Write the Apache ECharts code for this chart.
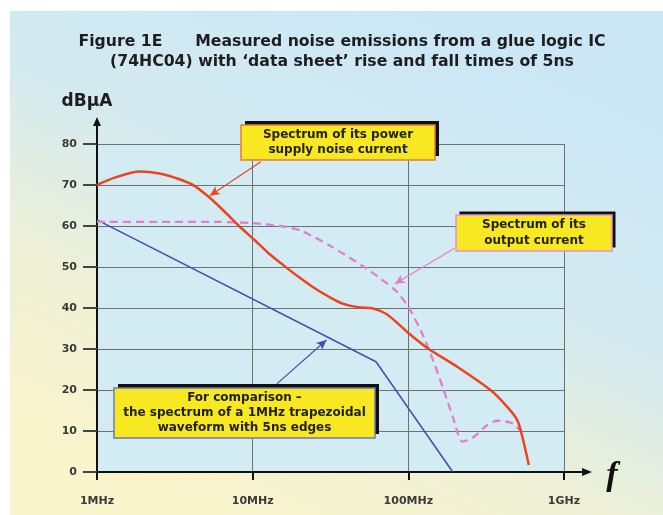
<!DOCTYPE html>
<html><head><meta charset="utf-8">
<script src="https://cdn.jsdelivr.net/npm/echarts@6/dist/echarts.min.js"></script>
<style>html,body{margin:0;padding:0;background:#fff}#c{width:663px;height:515px}</style>
</head><body><div id="c"></div>
<script>
// ---- data (frequency in MHz, level in dBµA) ----
const supplyFreq  = [1, 1.3, 1.88, 2.52, 3.39, 4.22, 5.26, 6.56, 8.18, 10.4, 12.7, 15.8, 19.7, 24.6, 30.7, 38.3, 47.7, 59.4, 71.9, 85.9, 100, 133, 200, 337, 432, 500, 540, 594];
const supplyLevel = [70, 71.8, 73.3, 72.8, 71.4, 69.8, 67.0, 63.6, 60.0, 56.4, 53.3, 50.4, 47.6, 45.0, 42.8, 41.0, 40.2, 39.9, 38.6, 36.2, 33.9, 30.2, 26, 20, 15.9, 12.7, 8.6, 1.7];
const outputFreq  = [1, 3, 6, 10, 15, 20, 31, 53, 82, 100, 124, 145, 166, 193, 223, 265, 322, 373, 465, 525];
const outputLevel = [61, 61, 61, 60.7, 60, 59, 55.3, 49.8, 44.4, 40.3, 33.4, 27, 20.8, 13.5, 7.4, 8.6, 11.5, 12.5, 11.9, 10];
const trapFreq  = [1, 62, 193];
const trapLevel = [61.5, 26.9, 0];
const xTickValues = [1, 10, 100, 1000];
const xTickLabels = ['1MHz', '10MHz', '100MHz', '1GHz'];
const yMin = 0, yMax = 80, yStep = 10;
// annotation arrows: [from, to] in data space
const supplyArrow = [[11.3, 75.7], [5.3, 67.4]];
const outputArrow = [[198, 54.6], [82, 45.9]];
const trapArrow   = [[14.3, 21.5], [29.8, 32.2]];

const zip = (a, b) => a.map((v, i) => [v, b[i]]);
const FONT = '"DejaVu Sans", sans-serif';

const chart = echarts.init(document.getElementById('c'), null, {renderer: 'canvas'});

function arrowLine(pair, color) {
  return {
    silent: true,
    symbol: ['none', 'arrow'],
    symbolSize: [7, 10],
    label: {show: false},
    lineStyle: {color: color, width: 1.2, type: 'solid'},
    emphasis: {disabled: true},
    data: [[{coord: pair[0]}, {coord: pair[1]}]]
  };
}

function box(x, y, w, h, off, border, lines, lh) {
  return {
    type: 'group', z: 50,
    children: [
      {type: 'rect', shape: {x: x + off, y: y - off, width: w, height: h}, style: {fill: '#111'}, z: 50},
      {type: 'rect', shape: {x: x, y: y, width: w, height: h}, style: {fill: '#f8e822', stroke: border, lineWidth: 1.5}, z: 51},
      {type: 'text', x: x + w / 2, y: y + h / 2, z: 52,
        style: {text: lines.join('\n'), font: 'bold 12px ' + FONT, fill: '#222210',
                textAlign: 'center', textVerticalAlign: 'middle', lineHeight: lh}}
    ]
  };
}

const option = {
  animation: false,
  backgroundColor: 'transparent',
  title: {
    text: 'Figure 1E      Measured noise emissions from a glue logic IC\n(74HC04) with \u2018data sheet\u2019 rise and fall times of 5ns',
    left: 337, top: 27, textAlign: 'center',
    textStyle: {fontFamily: FONT, fontWeight: 'bold', fontSize: 15.7, color: '#1e1e1e', lineHeight: 20}
  },
  grid: {left: 97, right: 99, top: 144, bottom: 43, show: true, backgroundColor: '#d3ebf2', borderWidth: 0},
  xAxis: {
    type: 'log', logBase: 10, min: 1, max: 1000,
    axisLine: {lineStyle: {color: '#111', width: 2}},
    axisTick: {show: true, length: 8, lineStyle: {color: '#111', width: 2}},
    minorTick: {show: false},
    splitLine: {show: true, lineStyle: {color: '#707070', width: 1}},
    axisLabel: {margin: 24, fontFamily: FONT, fontWeight: 'bold', fontSize: 11, color: '#3a3a3a',
      formatter: v => { const i = xTickValues.findIndex(t => Math.abs(t - v) < 1e-6 * t); return i >= 0 ? xTickLabels[i] : ''; }}
  },
  yAxis: {
    type: 'value', min: yMin, max: yMax, interval: yStep,
    axisLine: {show: true, lineStyle: {color: '#111', width: 2}},
    axisTick: {show: true, length: 14, lineStyle: {color: '#444', width: 2}},
    splitLine: {show: true, lineStyle: {color: '#707070', width: 1}},
    axisLabel: {margin: 20, fontFamily: FONT, fontWeight: 'bold', fontSize: 11, color: '#3a3a3a'}
  },
  series: [
    {name: 'trap', type: 'line', data: zip(trapFreq, trapLevel), symbol: 'none',
     lineStyle: {color: '#4250a8', width: 1.5}, z: 3, markLine: arrowLine(trapArrow, '#4250a8')},
    {name: 'output', type: 'line', data: zip(outputFreq, outputLevel), symbol: 'none', smooth: 0.25,
     lineStyle: {color: '#e07fce', width: 2.3, type: [8, 5]}, z: 4, markLine: arrowLine(outputArrow, '#e07fce')},
    {name: 'supply', type: 'line', data: zip(supplyFreq, supplyLevel), symbol: 'none', smooth: 0.3,
     lineStyle: {color: '#ec4320', width: 2.5}, z: 5, markLine: arrowLine(supplyArrow, '#ec4320')}
  ]
};
chart.setOption(option);

// decorations positioned from the axes
const p0 = chart.convertToPixel({gridIndex: 0}, [xTickValues[0], yMin]);
const pMax = chart.convertToPixel({gridIndex: 0}, [xTickValues[xTickValues.length - 1], yMax]);
const bg = new echarts.graphic.LinearGradient(0.65, 0, 0.3, 1, [
  {offset: 0, color: '#cbe7f6'}, {offset: 0.4, color: '#d4eaf0'},
  {offset: 0.7, color: '#eef0d6'}, {offset: 1, color: '#f9f4cb'}]);
chart.setOption({
  graphic: [
    {type: 'rect', shape: {x: 10, y: 11, width: 653, height: 504}, style: {fill: bg}, z: -100, silent: true},
    // axis extensions with arrows
    {type: 'line', shape: {x1: p0[0], y1: pMax[1], x2: p0[0], y2: pMax[1] - 20}, style: {stroke: '#111', lineWidth: 2}, z: 20},
    {type: 'polygon', shape: {points: [[p0[0] - 4, pMax[1] - 18], [p0[0] + 4, pMax[1] - 18], [p0[0], pMax[1] - 27]]}, style: {fill: '#111'}, z: 20},
    {type: 'line', shape: {x1: pMax[0], y1: p0[1], x2: pMax[0] + 20, y2: p0[1]}, style: {stroke: '#111', lineWidth: 2}, z: 20},
    {type: 'polygon', shape: {points: [[pMax[0] + 18, p0[1] - 4], [pMax[0] + 18, p0[1] + 4], [pMax[0] + 28, p0[1]]]}, style: {fill: '#111'}, z: 20},
    {type: 'text', x: 87, y: 102, style: {text: 'dB\u00b5A', font: 'bold 17px ' + FONT, fill: '#1e1e1e', textAlign: 'center', textVerticalAlign: 'middle'}, z: 20},
    {type: 'text', x: 612, y: 476, style: {text: 'f', font: 'bold italic 34px "Liberation Serif", serif', fill: '#111', textAlign: 'center', textVerticalAlign: 'middle'}, z: 20},
    box(241, 125, 194, 35, 4, '#ee7a33', ['Spectrum of its power', 'supply noise current'], 15),
    box(456, 215, 156, 36, 3.5, '#e48fd0', ['Spectrum of its', 'output current'], 15.5),
    box(114, 388, 261, 50, 4, '#6f78b8', ['For comparison \u2013', 'the spectrum of a 1MHz trapezoidal', 'waveform with 5ns edges'], 15)
  ]
});
</script></body></html>
